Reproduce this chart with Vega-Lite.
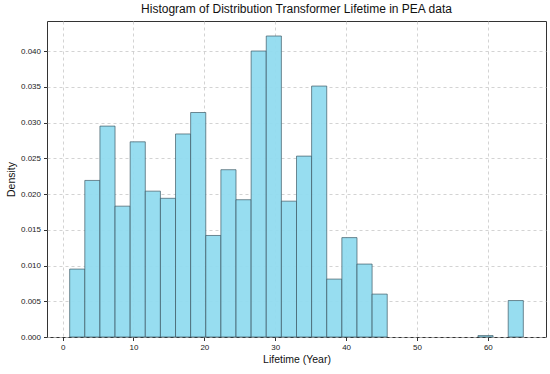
{
  "$schema": "https://vega.github.io/schema/vega-lite/v6.json",
  "width": 499,
  "height": 316,
  "autosize": {"type": "none"},
  "padding": {"left": 47, "top": 21, "right": 4, "bottom": 37},
  "background": "white",
  "title": {
    "text": "Histogram of Distribution Transformer Lifetime in PEA data",
    "font": "Liberation Sans",
    "fontSize": 12,
    "fontWeight": "normal",
    "color": "#111",
    "anchor": "middle",
    "offset": 5
  },
  "config": {
    "view": {"stroke": "#333", "strokeWidth": 1},
    "axis": {
      "labelFont": "Liberation Sans",
      "labelFontSize": 8,
      "labelColor": "#222",
      "titleFont": "Liberation Sans",
      "titleFontSize": 10.5,
      "titleFontWeight": "normal",
      "titleColor": "#111",
      "domain": false,
      "tickColor": "#333",
      "tickSize": 3.5,
      "labelPadding": 3,
      "grid": true,
      "gridColor": "#c8c8c8",
      "gridDash": [3, 3],
      "gridWidth": 0.8
    }
  },
  "data": {
    "values": [
      {"start": 1, "end": 3.1333, "density": 0.0095},
      {"start": 3.1333, "end": 5.2667, "density": 0.0219},
      {"start": 5.2667, "end": 7.4, "density": 0.0295},
      {"start": 7.4, "end": 9.5333, "density": 0.0183},
      {"start": 9.5333, "end": 11.6667, "density": 0.0273},
      {"start": 11.6667, "end": 13.8, "density": 0.0204},
      {"start": 13.8, "end": 15.9333, "density": 0.0194},
      {"start": 15.9333, "end": 18.0667, "density": 0.0284},
      {"start": 18.0667, "end": 20.2, "density": 0.0314},
      {"start": 20.2, "end": 22.3333, "density": 0.0142},
      {"start": 22.3333, "end": 24.4667, "density": 0.0234},
      {"start": 24.4667, "end": 26.6, "density": 0.0192},
      {"start": 26.6, "end": 28.7333, "density": 0.0400},
      {"start": 28.7333, "end": 30.8667, "density": 0.0421},
      {"start": 30.8667, "end": 33, "density": 0.0190},
      {"start": 33, "end": 35.1333, "density": 0.0253},
      {"start": 35.1333, "end": 37.2667, "density": 0.0351},
      {"start": 37.2667, "end": 39.4, "density": 0.0081},
      {"start": 39.4, "end": 41.5333, "density": 0.0139},
      {"start": 41.5333, "end": 43.6667, "density": 0.0102},
      {"start": 43.6667, "end": 45.8, "density": 0.0060},
      {"start": 58.6, "end": 60.7333, "density": 0.0002},
      {"start": 62.8667, "end": 65, "density": 0.0051}
    ]
  },
  "mark": {"type": "rect", "fill": "#91DBEF", "fillOpacity": 0.95, "stroke": "#3a5560", "strokeOpacity": 0.85, "strokeWidth": 0.8},
  "encoding": {
    "x": {
      "field": "start",
      "type": "quantitative",
      "scale": {"domain": [-2.2, 68.2], "nice": false, "zero": false},
      "axis": {"title": "Lifetime (Year)", "values": [0, 10, 20, 30, 40, 50, 60], "format": "d", "titlePadding": 3}
    },
    "x2": {"field": "end"},
    "y": {
      "field": "density",
      "type": "quantitative",
      "scale": {"domain": [0, 0.0442], "nice": false},
      "axis": {"title": "Density", "values": [0, 0.005, 0.01, 0.015, 0.02, 0.025, 0.03, 0.035, 0.04], "format": ".3f", "titlePadding": 4}
    },
    "y2": {"datum": 0}
  }
}
